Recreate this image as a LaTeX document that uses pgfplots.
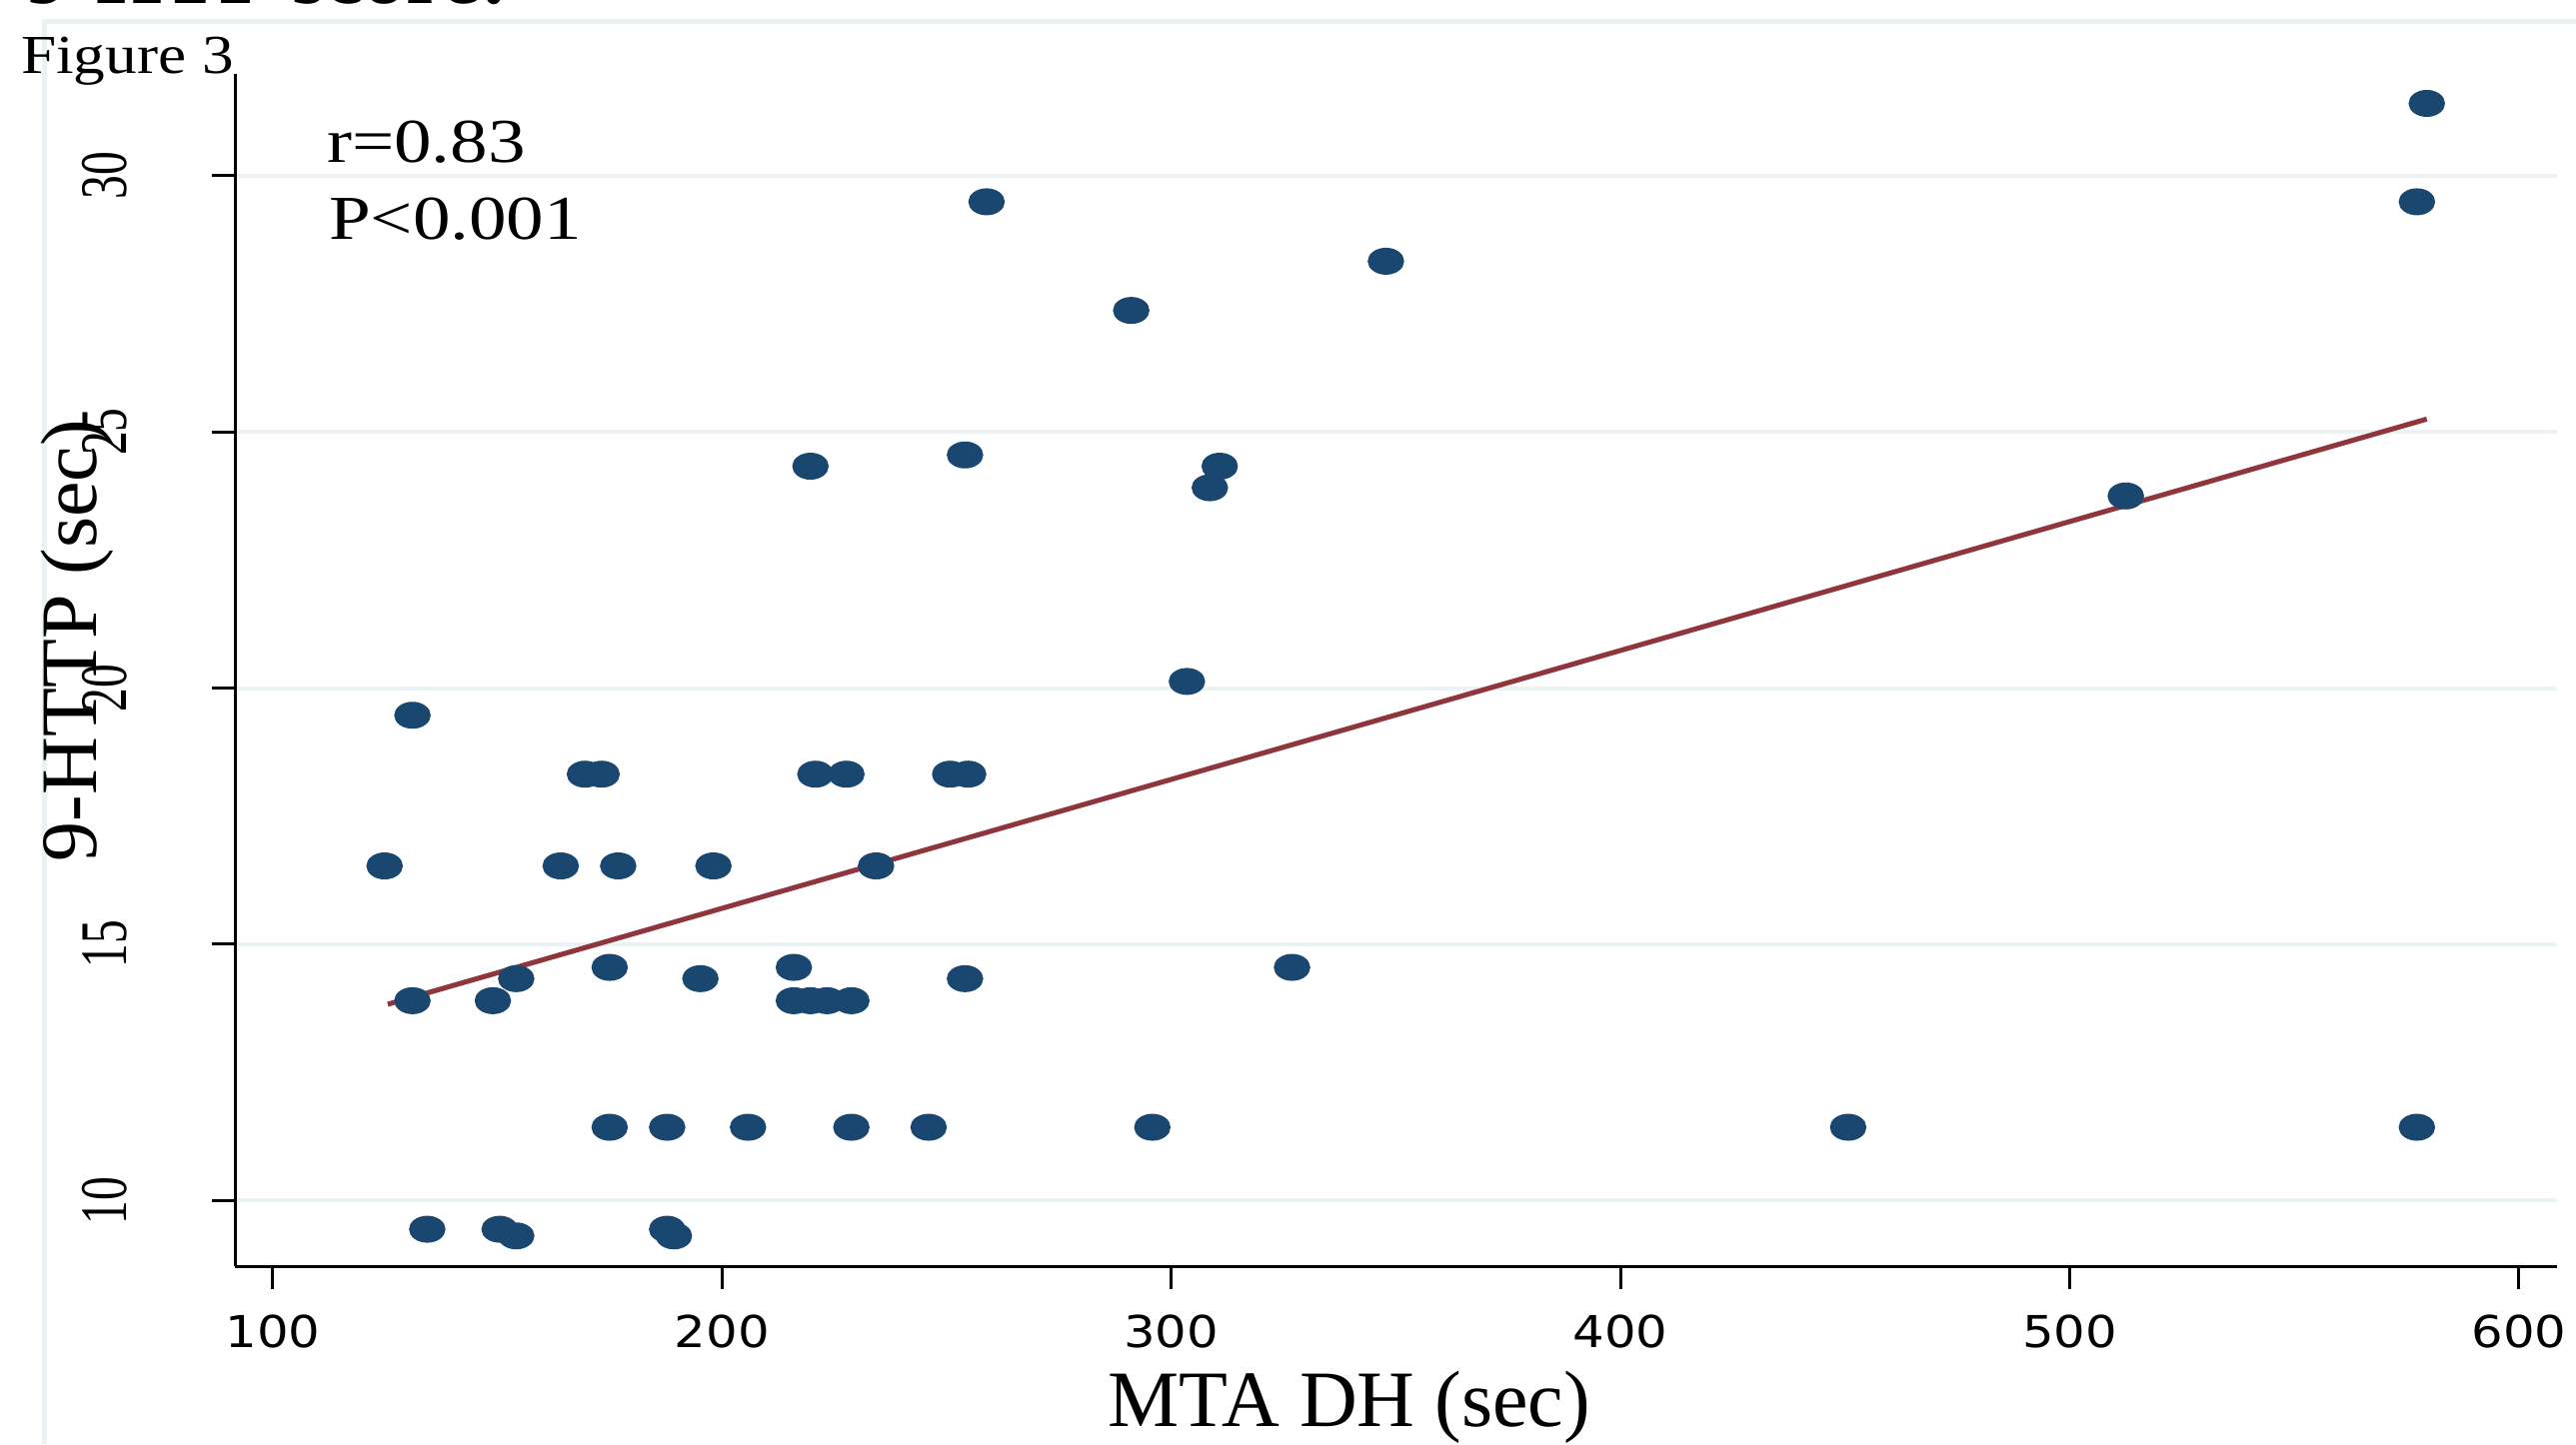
\documentclass[border=0pt]{standalone}
\usepackage{fontspec}
\setmainfont{Liberation Serif}
\newfontfamily\dejavu{DejaVu Sans}
\usepackage{pgfplots}
\pgfplotsset{compat=1.18}
\definecolor{stnavy}{HTML}{1A476F}
\definecolor{stmaroon}{HTML}{90353B}
\definecolor{stgrid}{HTML}{EAF2F3}
\begin{document}
\begin{tikzpicture}
\useasboundingbox (0,0) rectangle (515.4pt,289pt);
\fill[white] (0,0) rectangle (515.4pt,289pt);
\draw[stgrid, line width=1pt] (8.9pt,0) -- (8.9pt,284.6pt) -- (515.4pt,284.6pt);
\begin{scope}
\clip (0,0) rectangle (515.4pt,289pt);
\node[anchor=base west, inner sep=0pt, font=\bfseries\fontsize{17}{20}\selectfont] at (5pt,288.2pt) {9-HTP score:};
\end{scope}
\node[anchor=base west, inner sep=0pt, font=\fontsize{11}{13}\selectfont, xscale=1.15] at (4pt,274.2pt) {Figure 3};
\begin{axis}[
  at={(47pt,35.6pt)}, anchor=south west,
  scale only axis, width=464.6pt, height=238.6pt,
  xmin=91.58, xmax=608.5, ymin=8.72, ymax=31.985,
  axis lines=left, axis line style={-, line width=0.6pt, black},
  xtick={100,200,300,400,500,600}, ytick={10,15,20,25,30},
  xticklabels={100,200,300,400,500,600},
  yticklabels={10,15,20,25,30},
  tick align=outside, major tick length=4.6pt,
  tick style={black, line width=0.6pt},
  ymajorgrids, grid style={stgrid, line width=0.8pt},
  clip=false,
  xticklabel style={font=\dejavu\fontsize{8.8}{10}\selectfont, xscale=1.13, inner sep=0pt, anchor=north, yshift=-5pt},
  yticklabel style={font=\fontsize{9.5}{11}\selectfont, xshift=-16.6pt, rotate=90, yscale=1.4, inner sep=0pt, anchor=south},
]
\addplot[only marks, mark=*, mark size=2.5pt, color=stnavy, mark options={xscale=1.38}] coordinates {
(579.5,31.41) (577.3,29.49) (258.9,29.49) (347.8,28.33) (291.1,27.37)
(219.7,24.33) (254.1,24.55) (310.8,24.33) (308.6,23.91) (512.5,23.75)
(303.5,20.13) (131.1,19.47)
(169.5,18.32) (173.2,18.32) (220.8,18.32) (227.7,18.32) (250.8,18.32) (254.8,18.32)
(124.9,16.53) (164.1,16.53) (176.9,16.53) (198.1,16.53) (234.3,16.53)
(175.0,14.55) (216.0,14.55) (326.9,14.55)
(154.2,14.33) (195.2,14.33) (254.1,14.33)
(131.1,13.9) (149.0,13.9) (216.0,13.9) (219.7,13.9) (223.4,13.9) (228.8,13.9)
(175.0,11.43) (187.8,11.43) (205.8,11.43) (228.8,11.43) (246.0,11.43) (295.8,11.43) (450.7,11.43) (577.3,11.43)
(134.4,9.44) (150.5,9.44) (154.2,9.31) (187.8,9.44) (189.3,9.31)
};
\addplot[stmaroon, line width=1pt, no marks] coordinates {(125.6,13.83) (579.5,25.25)};
\end{axis}
\node[anchor=base west, inner sep=0pt, font=\fontsize{12.5}{15}\selectfont, xscale=1.2] at (65.2pt,256.4pt) {r=0.83};
\node[anchor=base west, inner sep=0pt, font=\fontsize{12.5}{15}\selectfont, xscale=1.2] at (65.6pt,241pt) {P<0.001};
\node[anchor=base, inner sep=0pt, font=\fontsize{16}{19}\selectfont] at (270pt,3.6pt) {MTA DH (sec)};
\node[anchor=base, inner sep=0pt, rotate=90, font=\fontsize{16}{19}\selectfont] at (19.4pt,160.8pt) {9-HTTP (sec)};
\end{tikzpicture}
\end{document}
